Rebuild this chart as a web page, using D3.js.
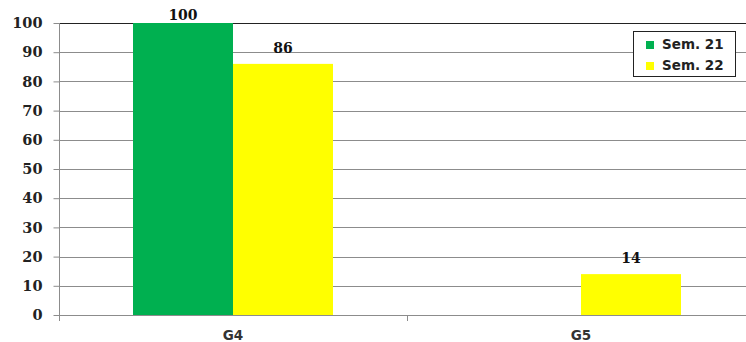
<!DOCTYPE html>
<html>
<head>
<meta charset="utf-8">
<script src="https://cdn.jsdelivr.net/npm/d3@7"></script>
<style>
  html, body { margin: 0; padding: 0; background: #fff; }
  svg { display: block; }
</style>
</head>
<body>
<svg id="chart" width="746" height="342"></svg>
<script>
// Groups along the x axis
const categories = ["G4", "G5"];
// Series names and their values per group (null = no bar)
const seriesNames = ["Sem. 21", "Sem. 22"];
const sem21 = [100, null];
const sem22 = [86, 14];
const seriesColors = ["#00b050", "#ffff00"];
// Y axis ticks
const yTicks = [0, 10, 20, 30, 40, 50, 60, 70, 80, 90, 100];

const svg = d3.select("#chart");
const margin = { left: 59, top: 23, bottom: 27 };
const plotW = 696;
const plotH = 342 - margin.top - margin.bottom;

const x0 = d3.scaleBand().domain(categories).range([margin.left, margin.left + plotW]).paddingInner(0).paddingOuter(0);
const x1 = d3.scaleBand().domain(seriesNames).range([0, x0.bandwidth()]).paddingOuter(0.74).paddingInner(0);
const y = d3.scaleLinear().domain([0, 100]).range([margin.top + plotH, margin.top]);

// horizontal gridlines
svg.append("g")
  .selectAll("line")
  .data(yTicks)
  .join("line")
  .attr("x1", margin.left).attr("x2", margin.left + plotW)
  .attr("y1", d => Math.round(y(d)) + 0.5).attr("y2", d => Math.round(y(d)) + 0.5)
  .attr("stroke", d => d === 100 ? "#222" : "#8c8c8c")
  .attr("stroke-width", 1);

// bars
const series = [sem21, sem22];
const barData = [];
categories.forEach((c, i) => {
  seriesNames.forEach((s, j) => {
    const v = series[j][i];
    if (v != null) barData.push({ cat: c, name: s, value: v, color: seriesColors[j] });
  });
});

svg.append("g")
  .selectAll("rect")
  .data(barData)
  .join("rect")
  .attr("x", d => x0(d.cat) + x1(d.name))
  .attr("y", d => y(d.value))
  .attr("width", x1.bandwidth())
  .attr("height", d => y(0) - y(d.value))
  .attr("fill", d => d.color);

// value labels (kept inside the top of the chart area)
svg.append("g")
  .selectAll("text")
  .data(barData)
  .join("text")
  .attr("x", d => x0(d.cat) + x1(d.name) + x1.bandwidth() / 2)
  .attr("y", d => Math.max(20, y(d.value) - 11))
  .attr("text-anchor", "middle")
  .attr("font-family", "'DejaVu Serif', serif")
  .attr("font-weight", "bold")
  .attr("font-size", 14)
  .attr("fill", "#111")
  .text(d => d.value);

// y axis
const yAxis = d3.axisLeft(y).tickValues(yTicks).tickSize(6).tickPadding(11);
const gy = svg.append("g").attr("transform", `translate(${margin.left + 0.5},0)`).call(yAxis);
gy.select(".domain").attr("stroke", "#8c8c8c").attr("d", `M0,${y(0)}V${y(100)}`);
gy.selectAll(".tick line").attr("stroke", "#8c8c8c");
gy.selectAll(".tick text")
  .attr("font-family", "'DejaVu Serif', serif")
  .attr("font-weight", "bold")
  .attr("font-size", 14.5)
  .attr("fill", "#222");

// x axis
const xAxis = d3.axisBottom(x0).tickSize(0).tickPadding(15);
const gx = svg.append("g").attr("transform", `translate(0,${Math.round(y(0)) + 0.5})`).call(xAxis);
gx.select(".domain").remove();
gx.selectAll(".tick text")
  .attr("font-family", "'DejaVu Sans', sans-serif")
  .attr("font-weight", "bold")
  .attr("font-size", 13.5)
  .attr("fill", "#333");
// category separators on the x axis
svg.append("g")
  .selectAll("line")
  .data(categories)
  .join("line")
  .attr("x1", d => Math.round(x0(d)) + 0.5).attr("x2", d => Math.round(x0(d)) + 0.5)
  .attr("y1", y(0)).attr("y2", y(0) + 6)
  .attr("stroke", "#8c8c8c");

// legend
const lg = svg.append("g").attr("transform", "translate(633,31)");
lg.append("rect").attr("x", 0.5).attr("y", 0.5).attr("width", 102).attr("height", 45)
  .attr("fill", "#fff").attr("stroke", "#222");
seriesNames.forEach((s, i) => {
  const row = lg.append("g").attr("transform", `translate(13,${18 + i * 21})`);
  row.append("rect").attr("x", 0).attr("y", -8).attr("width", 8).attr("height", 8).attr("fill", seriesColors[i]);
  row.append("text").attr("x", 16).attr("y", 0)
    .attr("font-family", "'DejaVu Sans', sans-serif")
    .attr("font-size", 13.5).attr("font-weight", "bold")
    .attr("fill", "#222").text(s);
});
</script>
</body>
</html>
